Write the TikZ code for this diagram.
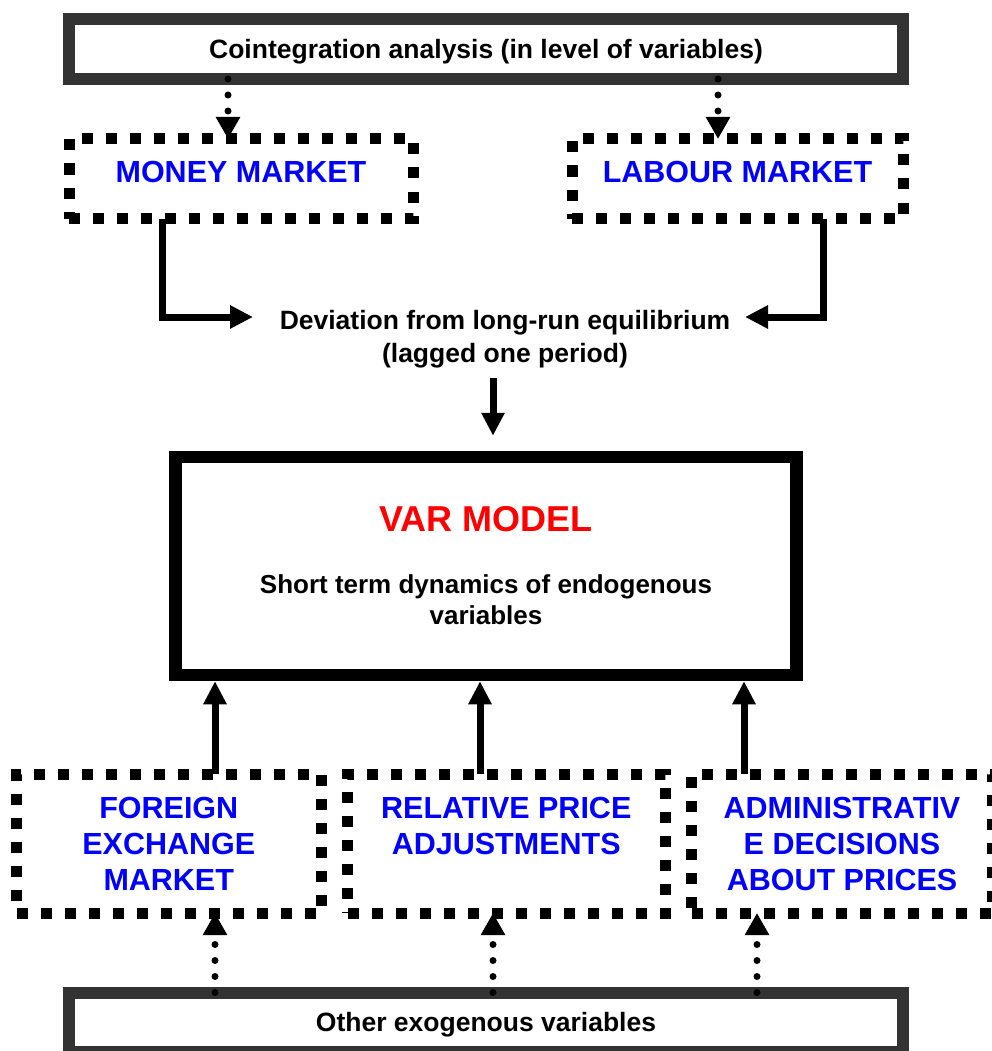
\documentclass[tikz,border=0pt]{standalone}
\usepackage{fontspec}
\setmainfont{Liberation Sans}
\usetikzlibrary{arrows.meta}
\definecolor{framegray}{RGB}{51,51,51}
\definecolor{mblue}{RGB}{0,0,255}
\definecolor{mred}{RGB}{255,0,0}
\begin{document}
\begin{tikzpicture}[x=1pt,y=-1pt,
  graybox/.style={draw=framegray, line width=12pt, minimum width=834pt, minimum height=60pt,
    inner sep=0pt, outer sep=0pt, font=\bfseries\fontsize{26.5}{31}\selectfont, text depth=0pt},
  dotbox/.style={draw=black, line width=11pt, dash pattern=on 11pt off 13pt, inner sep=0pt,
    outer sep=0pt, align=center, text=mblue, font=\bfseries\fontsize{30.5}{36}\selectfont},
  varbox/.style={draw=black, line width=12.5pt, minimum width=621pt, minimum height=218pt,
    align=center, font=\bfseries\fontsize{26}{31}\selectfont},
  plaintext/.style={align=center, font=\bfseries\fontsize{26.5}{33}\selectfont, inner sep=0pt},
  solidarrow/.style={line width=7pt, -{Triangle[width=22pt,length=23pt]}},
  dotarrow/.style={line width=7pt, line cap=round, dash pattern=on 0pt off 16pt,
    -{Triangle[width=23pt,length=22pt]}},
]
\useasboundingbox (0,0) rectangle (991,1051);

% nodes
\node[graybox] (coint) at (486,49) {Cointegration analysis (in level of variables)};
\node[dotbox, minimum width=344pt, minimum height=79.5pt, text depth=13pt] (money) at (241,178.75) {MONEY MARKET};
\node[dotbox, minimum width=331pt, minimum height=79.5pt, text depth=13pt] (labour) at (737.5,178.75) {LABOUR MARKET};
\node[plaintext] (dev) at (505,339) {Deviation from long-run equilibrium\\(lagged one period)};
\node[varbox] (var) at (486,566) {{\fontsize{36}{36}\selectfont\color{mred}VAR MODEL}\\[31pt]Short term dynamics of endogenous\\variables};
\node[dotbox, minimum width=304.5pt, minimum height=139pt] (forex) at (168.75,843.5) {FOREIGN\\EXCHANGE\\MARKET};
\node[dotbox, minimum width=317.5pt, minimum height=139pt] (relp) at (506.25,843.5) {RELATIVE PRICE\\ADJUSTMENTS\\\mbox{}};
\node[dotbox, minimum width=301pt, minimum height=139pt] (admin) at (842,843.5) {ADMINISTRATIV\\E DECISIONS\\ABOUT PRICES};
\node[graybox, minimum height=59.5pt] (exog) at (486,1022.25) {Other exogenous variables};

% helper coordinates
\coordinate (xa) at (228,0);
\coordinate (xb) at (718,0);
\coordinate (mL) at (162,0);
\coordinate (devL) at (253,317);
\coordinate (lR) at (823,0);
\coordinate (devR) at (745,317);
\coordinate (dx) at (493,0);
\coordinate (u1) at (215,0);
\coordinate (u2) at (480,0);
\coordinate (u3) at (744,0);
\coordinate (d1) at (215,0);
\coordinate (d2) at (493,0);
\coordinate (d3) at (757,0);

% connectors
\draw[dotarrow] (coint.south -| xa) -- (money.north -| xa);
\draw[dotarrow] (coint.south -| xb) -- (labour.north -| xb);
\draw[solidarrow] (money.south -| mL) |- (devL);
\draw[solidarrow] (labour.south -| lR) |- (devR);
\draw[solidarrow, shorten <=9.5pt, shorten >=15pt] (dev.south -| dx) -- (var.north -| dx);
\draw[solidarrow] (forex.north -| u1) -- (var.south -| u1);
\draw[solidarrow] (relp.north -| u2) -- (var.south -| u2);
\draw[solidarrow] (admin.north -| u3) -- (var.south -| u3);
\draw[dotarrow] (exog.north -| d1) -- (forex.south -| d1);
\draw[dotarrow] (exog.north -| d2) -- (relp.south -| d2);
\draw[dotarrow] (exog.north -| d3) -- (admin.south -| d3);
\end{tikzpicture}
\end{document}
